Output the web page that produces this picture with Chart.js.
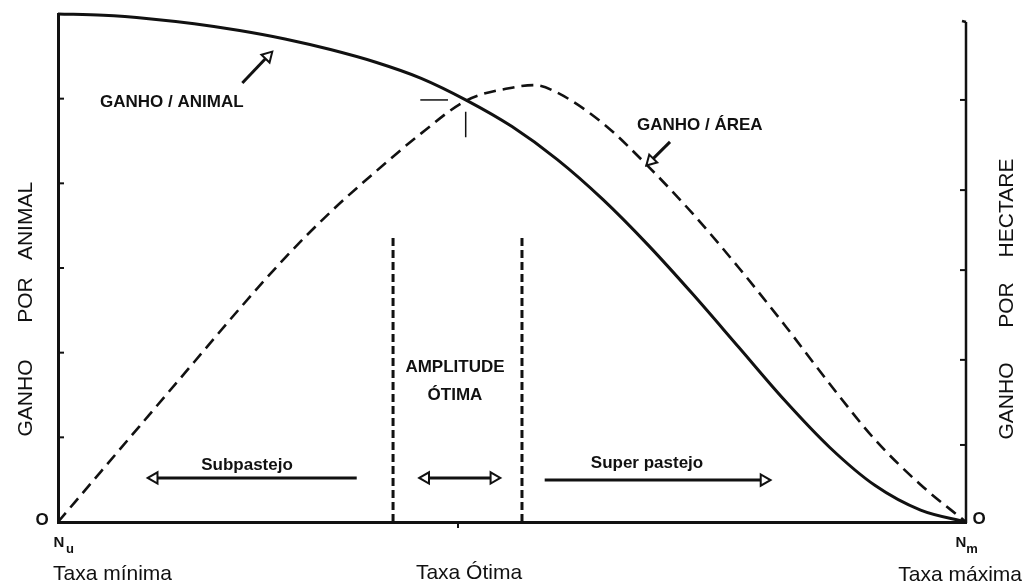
<!DOCTYPE html>
<html>
<head>
<meta charset="utf-8">
<script src="https://cdn.jsdelivr.net/npm/chart.js@4.4.1/dist/chart.umd.min.js"></script>
<style>
  html, body { margin: 0; padding: 0; background: #fff; }
  #wrap { width: 1026px; height: 588px; }
</style>
</head>
<body>
<div id="wrap"><canvas id="grafico" width="1026" height="588"></canvas></div>
<script>
// eixo x: 0 = Nu (taxa mínima) .. 100 = Nm (taxa máxima); eixo y: 0 .. 120
const taxaAnimal = [0, 5, 10, 15, 20, 25, 30, 35, 40, 45, 50, 55, 60, 65, 70, 75, 80, 85, 90, 95, 100];
const ganhoAnimal = [120, 119.7, 118.9, 117.7, 116.1, 114.1, 111.6, 108.6, 104.8, 99.6, 93.4, 85.6, 76.2, 65.4, 53.6, 41.2, 28.8, 17.6, 8.6, 2.8, 0];

const taxaArea = [0, 5, 10, 15, 20, 25, 30, 35, 40, 45, 50, 52.5, 55, 60, 65, 70, 75, 80, 85, 90, 95, 100];
const ganhoArea = [0, 12.6, 25.2, 37.8, 50.4, 62.4, 73.2, 82.8, 91.8, 99.6, 102.6, 103.2, 101.4, 94.2, 84, 72.6, 60, 46.6, 32.6, 19.4, 8.8, 0];

// limites da amplitude ótima
const limitesX = [36.9, 51.1];
const limiteTopo = 67.8;

// marcas no ponto de cruzamento
const cruzH = [[39.9, 99.7], [42.95, 99.7]];
const cruzV = [[44.9, 96.9], [44.9, 90.9]];

// setas (cauda, centro da ponta)
const setaSub = [[32.9, 10.4], [10.6, 10.4]];
const setaOtima = [[40.5, 10.4], [48.0, 10.4]];
const setaSuper = [[53.6, 9.9], [77.75, 9.9]];
const setaAnimal = [[20.3, 103.7], [23.1, 110.0]];
const setaArea = [[67.4, 89.8], [65.3, 85.3]];

// marcas dos eixos
const ticksEsq = [20, 40, 60, 80, 100];
const ticksDir = [18.2, 38.3, 59.5, 78.4, 99.7];
const topoDir = 118.1;
const taxaOtimaX = 44.05;

const pts = arr => arr.map(p => ({ x: p[0], y: p[1] }));

function seta(par, rot) {
  return {
    data: pts(par), borderColor: '#111', borderWidth: 3, clip: false,
    pointRadius: rot.map(r => r === null ? 0 : 6.5),
    pointStyle: 'triangle', pointRotation: rot.map(r => r || 0),
    pointBackgroundColor: '#fff', pointBorderColor: '#111', pointBorderWidth: 2
  };
}

const anotacoes = {
  id: 'anotacoes',
  afterDraw(chart) {
    const { ctx, scales: { x, y } } = chart;
    const ln = (x1, y1, x2, y2) => { ctx.beginPath(); ctx.moveTo(x1, y1); ctx.lineTo(x2, y2); ctx.stroke(); };
    ctx.save();
    ctx.strokeStyle = '#111';
    ctx.fillStyle = '#111';
    ctx.lineCap = 'butt';

    // marcas internas do eixo esquerdo
    ctx.lineWidth = 2;
    ticksEsq.forEach(v => { const py = y.getPixelForValue(v); ln(x.left, py, x.left + 6, py); });

    // eixo direito
    const xr = x.getPixelForValue(100);
    const yTop = y.getPixelForValue(topoDir);
    ctx.lineWidth = 2.5;
    ln(xr, y.getPixelForValue(0) + 1, xr, yTop);
    ln(xr, yTop, xr - 4, yTop - 1);
    ctx.lineWidth = 2;
    ticksDir.forEach(v => { const py = y.getPixelForValue(v); ln(xr - 6, py, xr, py); });

    // marca da taxa ótima
    const xo = x.getPixelForValue(taxaOtimaX);
    ln(xo, y.bottom, xo, y.bottom + 6);

    ctx.textBaseline = 'middle';
    ctx.textAlign = 'left';
    ctx.font = 'bold 17px "Liberation Sans", Arial, sans-serif';
    ctx.fillText('GANHO / ANIMAL', 100, 102);
    ctx.fillText('GANHO / ÁREA', 637, 125);
    ctx.textAlign = 'center';
    ctx.fillText('AMPLITUDE', 455, 367);
    ctx.fillText('ÓTIMA', 455, 395);
    ctx.font = 'bold 17px "Liberation Sans", Arial, sans-serif';
    ctx.fillText('Subpastejo', 247, 465);
    ctx.fillText('Super pastejo', 647, 463);

    // títulos dos eixos
    ctx.font = '21px "Liberation Sans", Arial, sans-serif';
    const vert = (txt, cx, cy) => {
      ctx.save(); ctx.translate(cx, cy); ctx.rotate(-Math.PI / 2);
      ctx.fillText(txt, 0, 0); ctx.restore();
    };
    vert('ANIMAL', 26, 221); vert('POR', 26, 300); vert('GANHO', 26, 398);
    vert('HECTARE', 1007, 208); vert('POR', 1007, 305); vert('GANHO', 1007, 401);

    // zeros e N
    ctx.font = 'bold 17px "Liberation Sans", Arial, sans-serif';
    ctx.fillText('O', 42, 520);
    ctx.fillText('O', 979, 519);
    ctx.font = 'bold 15px "Liberation Sans", Arial, sans-serif';
    ctx.fillText('N', 59, 543);
    ctx.fillText('N', 961, 543);
    ctx.font = 'bold 13px "Liberation Sans", Arial, sans-serif';
    ctx.fillText('u', 70, 549);
    ctx.fillText('m', 972, 549);

    ctx.font = '21px "Liberation Sans", Arial, sans-serif';
    ctx.textAlign = 'left';
    ctx.fillText('Taxa mínima', 53, 574);
    ctx.textAlign = 'center';
    ctx.fillText('Taxa Ótima', 469, 573);
    ctx.textAlign = 'right';
    ctx.fillText('Taxa máxima', 1022, 575);
    ctx.restore();
  }
};

new Chart(document.getElementById('grafico').getContext('2d'), {
  type: 'line',
  data: {
    datasets: [
      { label: 'Ganho / animal', data: taxaAnimal.map((t, i) => ({ x: t, y: ganhoAnimal[i] })),
        borderColor: '#111', borderWidth: 3, pointRadius: 0, cubicInterpolationMode: 'monotone', clip: false },
      { label: 'Ganho / área', data: taxaArea.map((t, i) => ({ x: t, y: ganhoArea[i] })),
        borderColor: '#111', borderWidth: 2.6, borderDash: [12, 7], pointRadius: 0, cubicInterpolationMode: 'monotone', clip: false },
      ...limitesX.map(lx => ({ data: [{ x: lx, y: 0 }, { x: lx, y: limiteTopo }],
        borderColor: '#111', borderWidth: 3, borderDash: [8, 4], pointRadius: 0, clip: false })),
      { data: pts(cruzH), borderColor: '#111', borderWidth: 1.5, pointRadius: 0, clip: false },
      { data: pts(cruzV), borderColor: '#111', borderWidth: 1.5, pointRadius: 0, clip: false },
      seta(setaSub, [null, -90]),
      seta(setaOtima, [-90, 90]),
      seta(setaSuper, [null, 90]),
      seta(setaAnimal, [null, 44]),
      seta(setaArea, [null, 225])
    ]
  },
  options: {
    responsive: false,
    animation: false,
    devicePixelRatio: 1,
    layout: { padding: { left: 58, right: 60, top: 14, bottom: 66 } },
    plugins: { legend: { display: false }, tooltip: { enabled: false } },
    scales: {
      x: { type: 'linear', min: 0, max: 100,
        ticks: { display: false }, grid: { display: false, drawTicks: false },
        border: { display: true, color: '#111', width: 3 } },
      y: { type: 'linear', min: 0, max: 120,
        ticks: { display: false }, grid: { display: false, drawTicks: false },
        border: { display: true, color: '#111', width: 3 } }
    }
  },
  plugins: [anotacoes]
});
</script>
</body>
</html>
